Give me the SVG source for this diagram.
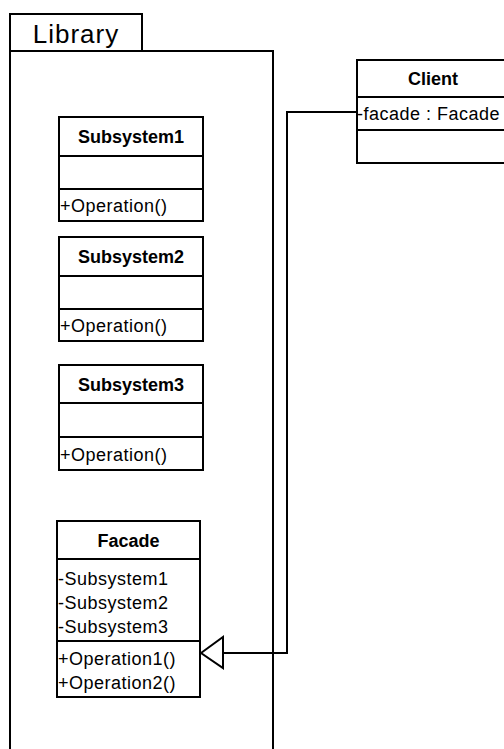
<svg xmlns="http://www.w3.org/2000/svg" width="504" height="749" viewBox="0 0 504 749">
  <style>
    .box { fill: #ffffff; stroke: #000000; stroke-width: 2; }
    .div { stroke: #000000; stroke-width: 2; }
    .title { font-family: "Liberation Sans", Arial, sans-serif; font-size: 18px; font-weight: bold; text-anchor: middle; fill: #000000; }
    .member { font-family: "Liberation Sans", Arial, sans-serif; font-size: 18px; letter-spacing: 0.5px; fill: #000000; }
    .pkg { font-family: "Liberation Sans", Arial, sans-serif; font-size: 26px; letter-spacing: 1px; text-anchor: middle; fill: #000000; }
    .conn { fill: none; stroke: #000000; stroke-width: 2; }
  </style>

  <!-- Package: Library -->
  <g id="library">
    <rect class="box" x="10" y="14" width="132" height="37"/>
    <rect class="box" x="10" y="51" width="263" height="720"/>
    <text class="pkg" x="76" y="43">Library</text>
  </g>

  <g id="subsystem1">
    <rect class="box" x="59" y="117" width="144" height="104"/>
    <line class="div" x1="59" y1="156" x2="203" y2="156"/>
    <line class="div" x1="59" y1="189" x2="203" y2="189"/>
    <text class="title" x="131" y="143">Subsystem1</text>
    <text class="member" x="60" y="212">+Operation()</text>
  </g>

  <g id="subsystem2">
    <rect class="box" x="59" y="237" width="144" height="104"/>
    <line class="div" x1="59" y1="276" x2="203" y2="276"/>
    <line class="div" x1="59" y1="309" x2="203" y2="309"/>
    <text class="title" x="131" y="263">Subsystem2</text>
    <text class="member" x="60" y="332">+Operation()</text>
  </g>

  <g id="subsystem3">
    <rect class="box" x="59" y="365" width="144" height="105"/>
    <line class="div" x1="59" y1="403" x2="203" y2="403"/>
    <line class="div" x1="59" y1="437" x2="203" y2="437"/>
    <text class="title" x="131" y="391">Subsystem3</text>
    <text class="member" x="60" y="461">+Operation()</text>
  </g>

  <g id="facade">
    <rect class="box" x="57" y="521" width="143" height="176"/>
    <line class="div" x1="57" y1="559" x2="200" y2="559"/>
    <line class="div" x1="57" y1="641" x2="200" y2="641"/>
    <text class="title" x="128.5" y="547">Facade</text>
    <text class="member" x="58" y="585">-Subsystem1</text>
    <text class="member" x="58" y="609">-Subsystem2</text>
    <text class="member" x="58" y="633">-Subsystem3</text>
    <text class="member" x="58" y="665">+Operation1()</text>
    <text class="member" x="58" y="689">+Operation2()</text>
  </g>

  <g id="client">
    <rect class="box" x="357" y="60" width="160" height="103"/>
    <line class="div" x1="357" y1="97" x2="517" y2="97"/>
    <line class="div" x1="357" y1="130" x2="517" y2="130"/>
    <text class="title" x="433" y="85">Client</text>
    <text class="member" x="357" y="120">-facade : Facade</text>
  </g>

  <!-- Connectors -->
  <g id="connectors">
    <polyline class="conn" points="357,112 287,112 287,653 223,653"/>
    <polygon class="conn" fill="#ffffff" points="201,653 223,637 223,668"/>
  </g>
</svg>
